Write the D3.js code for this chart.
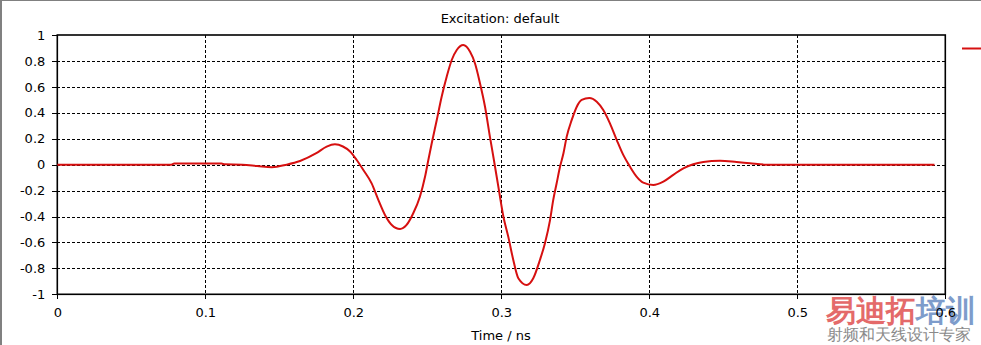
<!DOCTYPE html>
<html>
<head>
<meta charset="utf-8">
<script src="https://cdn.jsdelivr.net/npm/d3@7"></script>
<style>
  html, body { margin: 0; padding: 0; background: #fff; }
  svg { display: block; }
  text { font-family: "DejaVu Sans", sans-serif; }
</style>
</head>
<body>
<svg id="chart" width="981" height="345"></svg>
<script>
const title = "Excitation: default";
const xLabel = "Time / ns";
const xTicks = [0, 0.1, 0.2, 0.3, 0.4, 0.5, 0.6];
const xTickLabels = ["0", "0.1", "0.2", "0.3", "0.4", "0.5", "0.6"];
const yTicks = [-1, -0.8, -0.6, -0.4, -0.2, 0, 0.2, 0.4, 0.6, 0.8, 1];
const yTickLabels = ["-1", "-0.8", "-0.6", "-0.4", "-0.2", "0", "0.2", "0.4", "0.6", "0.8", "1"];

const timeNs = [0, 0.077, 0.079, 0.111, 0.113, 0.125, 0.135, 0.145, 0.155, 0.164, 0.175, 0.182, 0.1876,
  0.193, 0.198, 0.2023, 0.2068, 0.2124, 0.2169, 0.2214, 0.226, 0.2316, 0.236, 0.2405, 0.245, 0.2485,
  0.2507, 0.253, 0.2564, 0.2597, 0.2631, 0.2665, 0.2699, 0.2743, 0.2789, 0.2822, 0.2856, 0.289, 0.2923,
  0.295, 0.298, 0.3014, 0.3047, 0.3081, 0.3115, 0.3172, 0.3216, 0.3261, 0.3295, 0.3329, 0.3351, 0.3374,
  0.3397, 0.342, 0.3442, 0.3476, 0.351, 0.3543, 0.3595, 0.3645, 0.3689, 0.3734, 0.378, 0.3824, 0.3869,
  0.3914, 0.3959, 0.4027, 0.4095, 0.4162, 0.423, 0.4297, 0.4365, 0.4478, 0.459, 0.468, 0.479, 0.5927];
const excitation = [0, 0, 0.008, 0.008, 0.003, 0.0, -0.01, -0.02, 0.0, 0.028, 0.088, 0.139, 0.157,
  0.14, 0.10, 0.036, -0.041, -0.144, -0.272, -0.388, -0.465, -0.496, -0.465, -0.375, -0.247, -0.092,
  0.036, 0.165, 0.345, 0.524, 0.678, 0.807, 0.884, 0.923, 0.871, 0.782, 0.628, 0.447, 0.216,
  0.036, -0.17, -0.40, -0.555, -0.735, -0.876, -0.928, -0.876, -0.735, -0.606, -0.43, -0.272, -0.144,
  -0.015, 0.088, 0.216, 0.345, 0.447, 0.499, 0.515, 0.486, 0.422, 0.319, 0.19, 0.075, -0.015,
  -0.092, -0.139, -0.157, -0.131, -0.079, -0.028, 0.003, 0.021, 0.031, 0.021, 0.011, 0, 0];

(function () {
const svg = d3.select("#chart");
const W = 981, H = 345;
const pL = 57.3, pR = 945.3, pT = 35, pB = 294.3;
const FS = 13;

const x = d3.scaleLinear().domain([0, 0.6]).range([pL, pR]);
const y = d3.scaleLinear().domain([-1, 1]).range([pB, pT]);

// outer sunken border
svg.append("line").attr("x1", 0).attr("x2", W).attr("y1", 0.5).attr("y2", 0.5)
  .attr("stroke", "#808080").attr("stroke-width", 1);
svg.append("line").attr("x1", 1).attr("x2", 1).attr("y1", 0).attr("y2", H)
  .attr("stroke", "#808080").attr("stroke-width", 2);

// watermark (behind)
const wm = svg.append("g");
const wmText = wm.append("text").attr("x", 826).attr("y", 321)
  .attr("font-family", "'Noto Sans CJK SC', sans-serif").attr("font-weight", "900")
  .attr("font-size", 30);
wmText.append("tspan").attr("fill", "#e46a6a").text("易迪拓");
wmText.append("tspan").attr("fill", "#7e9ccb").text("培训");
wm.append("text").attr("x", 827).attr("y", 340)
  .attr("font-family", "'Noto Sans CJK SC', sans-serif").attr("font-weight", "500")
  .attr("font-size", 16.2).attr("fill", "#8a8a8a").text("射频和天线设计专家");

// grid
const grid = svg.append("g").attr("stroke", "#000").attr("stroke-width", 1)
  .attr("stroke-dasharray", "3,2").attr("shape-rendering", "crispEdges");
grid.selectAll(".vg").data(xTicks.filter(d => d > 0 && d < 0.6)).join("line")
  .attr("x1", d => Math.round(x(d)) + 0.5).attr("x2", d => Math.round(x(d)) + 0.5)
  .attr("y1", pT).attr("y2", pB);
grid.selectAll(".hg").data(yTicks.filter(d => d > -1 && d < 1)).join("line")
  .attr("y1", d => Math.round(y(d)) + 0.5).attr("y2", d => Math.round(y(d)) + 0.5)
  .attr("x1", pL).attr("x2", pR);

// axes
const xAxis = d3.axisBottom(x).tickValues(xTicks).tickFormat((d, i) => xTickLabels[i])
  .tickSizeInner(5).tickSizeOuter(0).tickPadding(8);
const yAxis = d3.axisLeft(y).tickValues(yTicks).tickFormat((d, i) => yTickLabels[i])
  .tickSizeInner(5).tickSizeOuter(0).tickPadding(7);

const gx = svg.append("g").attr("transform", `translate(0,${pB})`).call(xAxis);
const gy = svg.append("g").attr("transform", `translate(${pL},0)`).call(yAxis);
[gx, gy].forEach(g => {
  g.select(".domain").remove();
  g.selectAll("line").attr("stroke", "#000").attr("shape-rendering", "crispEdges");
  g.selectAll("text").attr("font-size", FS).attr("fill", "#000")
    .attr("font-family", "'DejaVu Sans', sans-serif");
});

// frame
svg.append("rect").attr("x", pL).attr("y", pT)
  .attr("width", pR - pL).attr("height", pB - pT)
  .attr("fill", "none").attr("stroke", "#000").attr("stroke-width", 1.6);

// curve
const pts = timeNs.map((t, i) => [t, excitation[i]]);
const line = d3.line().x(d => x(d[0])).y(d => y(d[1])).curve(d3.curveMonotoneX);
svg.append("path").datum(pts).attr("d", line)
  .attr("fill", "none").attr("stroke", "#d61010").attr("stroke-width", 2)
  .attr("stroke-linejoin", "round");

// title & labels
svg.append("text").attr("x", 500).attr("y", 23).attr("text-anchor", "middle")
  .attr("font-size", FS).attr("fill", "#000").text(title);
svg.append("text").attr("x", 501).attr("y", 340).attr("text-anchor", "middle")
  .attr("font-size", FS).attr("fill", "#000").text(xLabel);

// legend swatch (cut off at the edge)
svg.append("line").attr("x1", 962).attr("x2", 985).attr("y1", 48.5).attr("y2", 48.5)
  .attr("stroke", "#d61010").attr("stroke-width", 2);
})();
</script>
</body>
</html>
